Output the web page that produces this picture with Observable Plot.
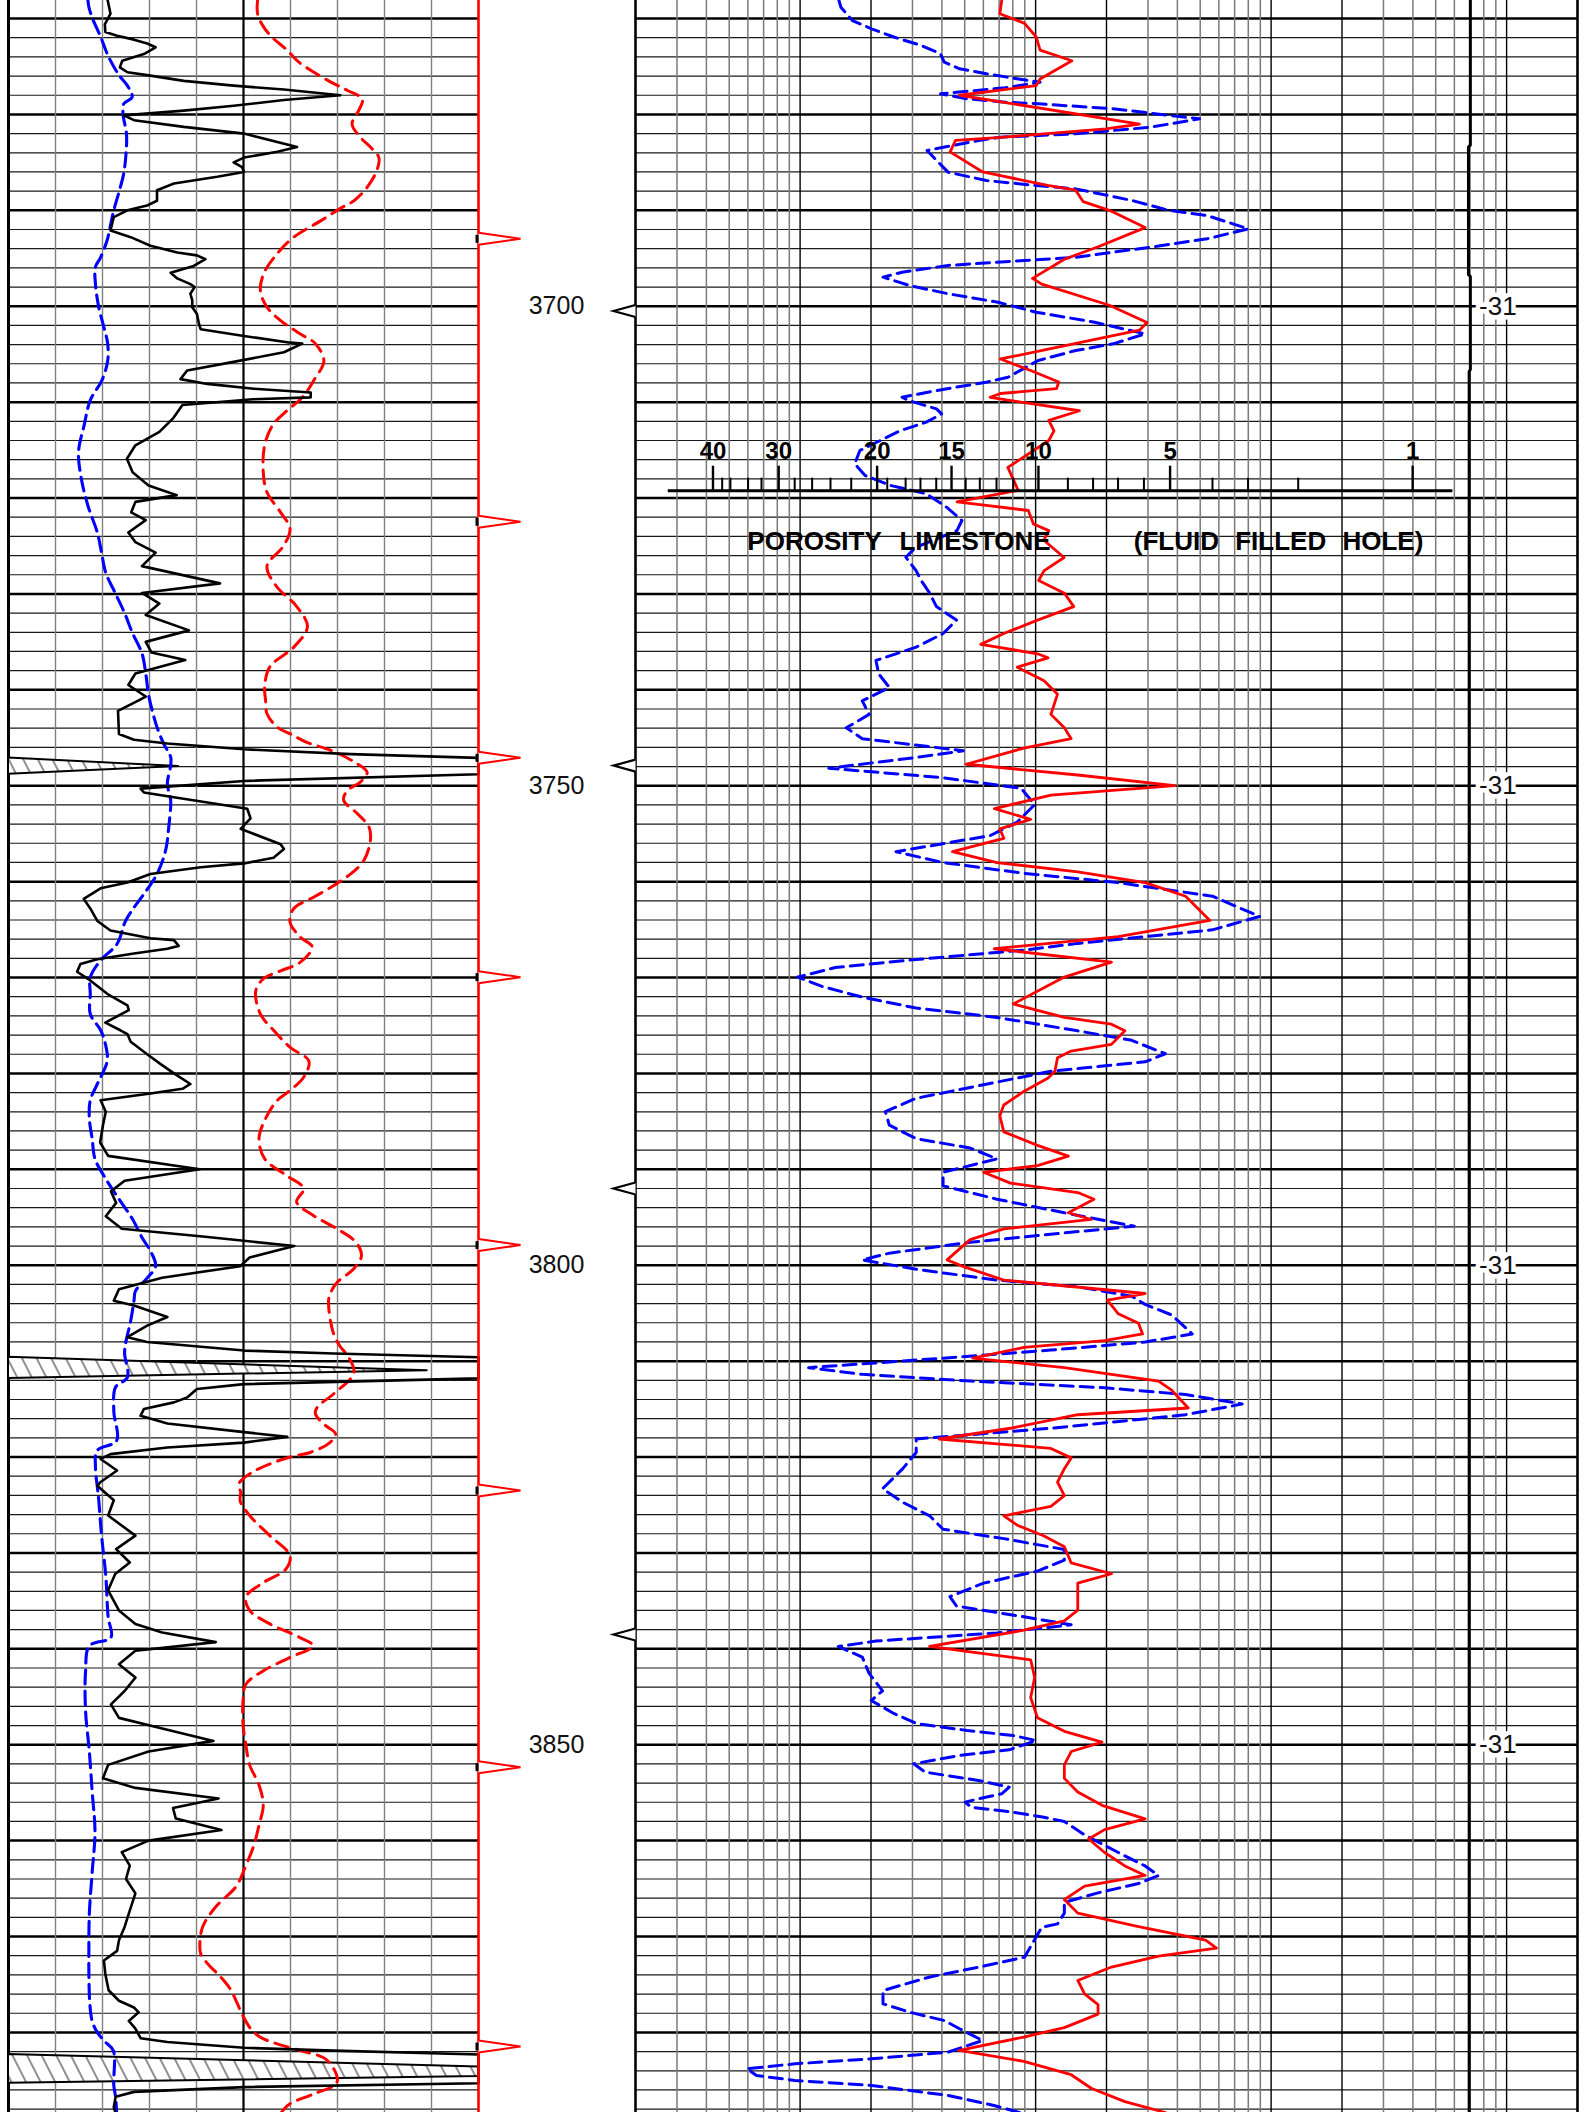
<!DOCTYPE html>
<html><head><meta charset="utf-8">
<script src="https://cdn.jsdelivr.net/npm/d3@7"></script>
<script src="https://cdn.jsdelivr.net/npm/@observablehq/plot@0.6"></script>
<style>
html,body{margin:0;padding:0;background:#fff;}
#chart{position:relative;width:1588px;height:2112px;overflow:hidden;background:#fff;}
#chart svg{position:absolute;top:0;overflow:visible;background:transparent;}
</style></head><body><div id="chart"></div>
<script>
// ---------------- DATA ----------------
// depth window (ft)
const depthTop = 3668.12, depthBottom = 3888.35;
// depth labels and grid notes
const depthLabels = [3700, 3750, 3800, 3850];
const gridNotes = ["-31", "-31", "-31", "-31"];
// marker depths
const tensionMarks = [3700.5, 3747.9, 3792.0, 3838.5];      // black markers (depth track)
const timeMarks = [3692.97, 3722.48, 3747.09, 3769.96, 3797.90, 3823.49, 3852.34, 3881.47]; // red markers

// porosity overlay scale (values and their position on the track, in cycle units)
const porMajor = [40, 30, 20, 15, 10, 5, 1];
const porMajorPos = [3.29, 6.08, 10.26, 13.42, 17.11, 22.70, 33.00];
const porMinor = [38, 36, 34, 32, 28, 26, 24, 22, 19, 18, 17, 16, 14, 13, 12, 11, 9, 8, 7, 6, 4, 3, 2];
const porMinorPos = [3.68, 4.03, 4.78, 5.35, 6.76, 7.50, 8.28, 9.16, 10.69, 11.47, 12.10, 12.77, 14.02, 14.62, 15.33, 16.04, 18.36, 19.43, 20.49, 21.59, 24.50, 26.01, 28.14];
const porTitle = ["POROSITY LIMESTONE", "(FLUID FILLED HOLE)"];

// left track curves: [depth, value 0-100]
const leftBlack = [[3668.1,21.1],[3669.5,21.7],[3670.6,20.5],[3671.4,20.6],[3671.8,23.1],[3672.2,26.7],[3672.6,29.5],[3673.0,31.3],[3673.7,28.8],[3674.4,24.2],[3675.1,23.7],[3675.6,25.3],[3675.9,29.5],[3676.5,37.3],[3677.0,47.9],[3677.4,58.6],[3678.0,70.6],[3678.5,58.6],[3679.1,47.9],[3679.6,37.3],[3680.1,24.5],[3680.6,26.7],[3681.3,37.3],[3682.0,50.1],[3683.4,61.4],[3683.9,57.2],[3684.5,50.1],[3685.0,47.9],[3685.5,49.7],[3686.0,50.1],[3686.5,44.4],[3687.2,35.2],[3687.9,31.6],[3689.0,31.6],[3689.5,29.5],[3690.0,25.3],[3690.7,22.4],[3692.1,21.7],[3692.8,26.0],[3693.7,30.2],[3694.4,35.9],[3694.7,40.1],[3695.1,41.9],[3695.8,39.4],[3696.5,34.5],[3697.1,35.9],[3697.7,38.7],[3698.0,39.6],[3698.7,38.7],[3699.4,39.1],[3700.1,39.1],[3700.8,40.1],[3701.8,40.5],[3702.4,40.9],[3703.1,50.1],[3703.8,60.0],[3703.9,62.5],[3704.8,58.6],[3705.8,47.9],[3706.7,38.0],[3707.6,36.6],[3708.1,42.3],[3708.6,52.2],[3709.0,64.3],[3709.5,64.3],[3709.7,52.0],[3710.3,37.0],[3711.7,35.0],[3713.1,32.1],[3714.5,27.0],[3715.9,25.2],[3717.3,26.4],[3718.7,29.8],[3719.7,35.8],[3720.4,27.0],[3721.5,26.1],[3722.3,29.2],[3723.6,25.5],[3724.6,27.0],[3725.7,31.3],[3727.1,28.4],[3728.9,45.0],[3729.9,28.4],[3731.0,32.1],[3732.2,29.2],[3733.8,38.4],[3735.0,29.2],[3736.1,30.4],[3736.9,37.6],[3738.3,27.0],[3739.5,25.5],[3740.7,29.2],[3741.1,27.7],[3742.2,23.3],[3744.6,23.5],[3745.2,26.7],[3745.6,33.8],[3746.2,50.1],[3746.7,72.8],[3747.1,100],[3748.0,136.2],[3748.8,100],[3749.5,50.1],[3750.3,28.1],[3750.7,28.8],[3751.2,35.2],[3751.9,44.4],[3752.4,50.8],[3753.4,51.5],[3754.5,49.4],[3756.1,57.9],[3756.6,58.6],[3757.5,56.4],[3758.1,50.1],[3758.5,40.9],[3759.2,30.2],[3760.1,25.3],[3760.7,19.6],[3761.8,16.0],[3762.8,17.4],[3764.1,18.9],[3765.1,21.7],[3765.9,30.2],[3766.1,35.2],[3766.7,36.2],[3767.0,33.8],[3767.5,26.7],[3768.1,18.9],[3768.6,15.3],[3769.4,14.6],[3770.3,17.4],[3771.7,21.0],[3772.9,25.3],[3773.4,25.6],[3774.7,20.6],[3775.5,23.8],[3775.9,25.3],[3776.7,26.0],[3778.0,29.5],[3779.0,32.3],[3780.0,35.2],[3781.1,38.7],[3781.6,37.0],[3782.1,30.2],[3782.8,19.6],[3784.0,20.7],[3785.4,20.1],[3787.2,19.5],[3788.6,21.2],[3790.0,40.7],[3791.2,24.7],[3792.3,21.8],[3793.5,22.9],[3794.9,20.7],[3796.2,24.1],[3797.0,41.3],[3798.0,60.8],[3799.2,51.3],[3800.1,49.3],[3801.3,32.7],[3802.5,23.5],[3803.7,22.4],[3804.2,26.7],[3805.4,33.8],[3806.3,29.5],[3807.5,25.3],[3808.0,29.5],[3808.9,50.1],[3809.2,69.2],[3809.6,100],[3811.0,189.1],[3811.8,100],[3812.4,50.1],[3812.9,40.1],[3813.8,38.0],[3814.3,35.2],[3815.0,28.8],[3815.7,28.1],[3816.5,33.8],[3817.4,50.1],[3817.9,59.3],[3818.5,50.1],[3819.0,33.8],[3819.7,21.7],[3820.2,19.6],[3821.4,23.1],[3822.6,19.6],[3823.0,18.9],[3824.5,22.4],[3826.1,21.2],[3828.2,27.0],[3829.6,22.9],[3831.0,25.8],[3832.2,22.7],[3833.9,21.2],[3836.0,23.5],[3837.4,27.0],[3838.3,32.7],[3839.3,44.1],[3840.2,27.0],[3841.6,23.5],[3843.0,27.0],[3844.4,24.7],[3845.8,21.8],[3847.2,23.5],[3848.3,32.7],[3849.6,43.6],[3850.7,29.8],[3852.1,21.2],[3853.5,20.1],[3854.5,27.0],[3855.6,44.7],[3856.6,35.0],[3857.7,35.6],[3858.9,45.3],[3860.0,29.8],[3861.2,24.1],[3862.6,25.8],[3864.0,25.0],[3865.5,27.0],[3867.3,25.8],[3869.0,24.7],[3870.4,23.5],[3871.5,23.1],[3872.5,20.3],[3873.9,20.6],[3875.6,21.3],[3876.7,23.5],[3877.4,26.7],[3877.9,27.7],[3878.8,25.6],[3879.6,27.0],[3880.6,28.1],[3881.0,33.8],[3881.6,50.1],[3881.9,69.2],[3882.3,100],[3883.6,200],[3884.1,215],[3884.6,200],[3885.3,100],[3885.7,50.1],[3886.2,26.7],[3886.7,22.8],[3887.8,22.4],[3888.4,22.8]];

const leftBlue = [[3668.1,16.9],[3668.8,17.1],[3669.9,17.8],[3671.9,19.6],[3674.0,21.3],[3675.9,23.5],[3677.0,25.3],[3678.2,26.3],[3678.9,24.5],[3680.1,24.4],[3682.0,25.1],[3684.1,25.0],[3686.2,24.5],[3688.1,23.5],[3690.0,22.4],[3691.8,21.6],[3693.1,21.0],[3694.9,19.6],[3695.9,18.5],[3697.7,18.5],[3700.1,19.2],[3702.2,20.3],[3703.9,21.1],[3705.7,21.1],[3707.7,19.9],[3709.8,17.4],[3712.4,16.1],[3715.2,14.9],[3718.0,15.5],[3720.8,16.9],[3723.6,18.9],[3725.7,19.8],[3727.8,20.7],[3729.9,22.7],[3732.0,24.7],[3734.1,26.4],[3736.2,28.4],[3738.3,29.2],[3740.5,29.8],[3742.2,30.6],[3743.9,31.6],[3745.6,33.0],[3747.0,34.5],[3747.9,34.5],[3749.8,33.8],[3751.5,34.5],[3754.3,34.1],[3756.8,33.4],[3759.2,31.6],[3761.3,28.8],[3762.7,26.7],[3764.1,24.9],[3766.5,23.1],[3768.2,19.6],[3770.0,17.4],[3771.7,17.4],[3773.8,17.4],[3775.5,19.6],[3776.9,20.6],[3778.7,21.0],[3781.1,18.9],[3782.8,17.4],[3784.7,17.2],[3786.8,17.8],[3788.9,18.4],[3791.0,20.7],[3793.1,23.5],[3795.2,26.4],[3797.1,28.4],[3798.7,30.4],[3800.1,31.3],[3801.5,29.2],[3802.7,27.0],[3803.7,26.7],[3805.8,26.0],[3808.2,24.9],[3809.2,24.7],[3811.7,25.3],[3812.7,22.8],[3815.2,22.4],[3818.3,23.0],[3819.3,18.9],[3821.1,18.5],[3823.1,18.9],[3824.5,19.2],[3828.2,19.8],[3832.4,20.7],[3836.7,21.2],[3838.8,21.8],[3839.7,17.2],[3842.3,16.4],[3846.5,16.4],[3850.7,17.2],[3854.9,17.8],[3859.1,18.4],[3863.3,17.8],[3867.6,17.2],[3871.5,17.1],[3873.5,17.1],[3877.0,17.3],[3878.8,17.8],[3880.0,18.9],[3881.0,20.6],[3881.9,22.3],[3885.5,22.4],[3886.8,22.8],[3888.4,23.0]];

const leftRed = [[3668.1,53.0],[3669.5,53.0],[3670.9,54.3],[3672.1,56.4],[3673.3,59.3],[3674.4,61.4],[3675.4,64.3],[3676.6,68.5],[3677.5,72.1],[3678.4,75.3],[3679.6,74.5],[3681.0,73.1],[3682.4,74.9],[3683.4,77.0],[3684.5,78.8],[3685.8,78.4],[3687.6,76.3],[3689.0,73.5],[3689.8,70.6],[3691.1,66.4],[3692.8,60.7],[3694.5,57.2],[3696.6,54.3],[3698.4,53.6],[3700.1,55.0],[3701.5,57.9],[3702.9,62.1],[3703.9,65.3],[3705.7,67.1],[3707.7,65.0],[3709.1,63.2],[3709.8,61.9],[3711.0,59.0],[3712.4,56.2],[3714.5,54.5],[3717.3,54.2],[3719.4,55.0],[3721.5,57.9],[3723.2,59.9],[3725.0,58.5],[3727.1,55.0],[3729.2,57.0],[3731.3,61.3],[3733.4,63.6],[3735.5,60.8],[3737.6,55.6],[3739.7,54.5],[3741.1,54.7],[3742.5,55.0],[3743.9,57.2],[3744.6,60.0],[3745.5,63.6],[3746.3,68.5],[3747.5,73.5],[3748.6,76.3],[3749.6,74.9],[3750.5,72.1],[3751.5,71.3],[3752.9,74.2],[3754.3,76.7],[3755.7,77.0],[3757.8,75.6],[3759.2,72.8],[3760.4,69.2],[3761.6,65.0],[3762.8,60.7],[3764.2,59.9],[3765.8,62.1],[3766.8,64.6],[3768.4,62.1],[3769.3,57.9],[3770.1,54.3],[3771.4,52.6],[3773.8,53.6],[3775.5,56.4],[3777.3,60.0],[3778.7,63.9],[3780.4,62.8],[3782.0,59.3],[3782.8,57.2],[3784.7,54.7],[3786.8,53.3],[3788.9,54.5],[3790.6,59.0],[3792.0,62.8],[3793.4,61.3],[3794.8,64.8],[3796.2,69.9],[3797.6,73.9],[3799.0,75.1],[3800.4,73.4],[3801.8,69.9],[3802.9,68.5],[3803.7,68.1],[3805.8,68.5],[3807.2,69.2],[3808.5,70.6],[3809.4,72.1],[3811.2,73.5],[3813.4,69.2],[3814.8,65.7],[3815.5,65.3],[3816.7,67.4],[3817.6,69.6],[3818.6,68.1],[3819.5,64.3],[3820.0,60.0],[3820.7,55.7],[3821.7,51.5],[3822.8,49.0],[3823.7,49.4],[3824.6,49.3],[3826.1,51.3],[3828.2,55.6],[3830.3,59.9],[3831.7,59.0],[3833.1,54.2],[3834.6,50.5],[3836.0,51.3],[3837.4,55.6],[3838.8,61.9],[3839.7,64.8],[3840.9,59.9],[3842.3,54.2],[3843.7,50.5],[3845.4,49.9],[3847.9,49.9],[3850.0,50.5],[3852.1,51.3],[3854.2,53.3],[3856.3,54.2],[3858.4,53.3],[3860.5,52.2],[3862.6,50.5],[3864.8,48.4],[3866.9,44.1],[3869.0,41.3],[3871.1,40.7],[3871.8,40.9],[3872.8,42.3],[3874.2,45.1],[3875.5,47.2],[3877.0,48.7],[3878.1,49.7],[3879.6,51.5],[3880.5,53.6],[3881.2,57.2],[3881.9,62.1],[3882.9,67.8],[3885.2,69.9],[3886.4,65.0],[3887.4,60.0],[3888.0,58.6],[3888.4,58.0]];

// right track curves: [depth, position in cycle units (10 per decade, 0-40)]
const rightRed = [[3668.12,15.55],[3669.5,15.47],[3670.5,16.52],[3671.9,17.01],[3673.3,17.18],[3674.4,18.53],[3676.3,17.18],[3677.0,17.01],[3678.0,13.76],[3681.0,21.40],[3681.5,19.97],[3682.4,15.50],[3682.7,13.59],[3683.9,13.36],[3686.0,14.74],[3687.4,17.50],[3687.9,18.69],[3689.1,19.01],[3690.0,20.12],[3691.8,21.64],[3693.8,19.65],[3695.1,18.21],[3697.1,16.86],[3697.7,17.25],[3699.9,20.12],[3701.7,21.72],[3702.5,21.40],[3704.3,17.89],[3705.5,15.50],[3706.7,16.78],[3707.9,17.97],[3708.6,17.88],[3709.1,15.50],[3709.5,15.06],[3709.8,15.81],[3710.9,18.85],[3711.9,17.55],[3713.0,17.77],[3714.0,17.55],[3716.1,16.25],[3716.8,15.81],[3719.2,16.25],[3720.4,13.65],[3721.3,16.68],[3722.7,16.90],[3723.4,17.55],[3724.4,17.34],[3726.2,18.20],[3727.6,17.34],[3728.6,17.12],[3729.92,18.21],[3731.32,18.61],[3732.73,17.07],[3734.13,15.64],[3735.26,14.66],[3736.24,17.07],[3736.66,17.52],[3737.64,16.21],[3739.05,17.35],[3740.45,17.92],[3742.56,17.64],[3743.96,18.21],[3745.09,18.50],[3746.07,16.49],[3747.76,14.04],[3748.88,18.78],[3750.00,22.90],[3750.99,17.64],[3752.39,15.24],[3753.51,16.78],[3754.50,15.47],[3755.48,15.64],[3756.88,13.46],[3758.01,15.35],[3758.99,18.78],[3760.11,21.64],[3761.52,23.36],[3764.05,24.39],[3765.73,20.50],[3767.00,15.24],[3768.40,20.21],[3769.95,18.21],[3772.76,16.04],[3774.16,18.21],[3774.86,20.21],[3775.56,20.78],[3776.97,20.21],[3777.67,18.50],[3778.37,17.92],[3779.78,17.81],[3780.48,17.52],[3781.88,16.49],[3783.29,15.64],[3784.41,15.47],[3786.10,15.64],[3787.50,17.07],[3788.63,18.38],[3789.61,17.07],[3790.31,14.78],[3791.44,15.92],[3792.42,18.78],[3793.12,19.47],[3794.53,18.38],[3795.23,19.35],[3796.21,15.64],[3797.33,14.21],[3799.44,13.23],[3800.14,13.92],[3801.55,15.64],[3802.95,21.64],[3803.65,20.04],[3805.06,20.50],[3806.04,21.36],[3807.17,21.53],[3807.87,19.92],[3808.57,16.49],[3809.69,14.32],[3810.68,18.21],[3812.08,22.21],[3813.06,22.78],[3814.89,23.47],[3815.59,18.78],[3817.00,15.92],[3818.12,12.89],[3819.10,17.64],[3820.09,18.50],[3821.21,18.21],[3822.62,17.92],[3824.02,18.21],[3825.14,17.64],[3826.13,15.64],[3827.11,16.21],[3828.23,17.35],[3829.36,18.21],[3831.04,18.50],[3832.17,20.21],[3833.15,18.78],[3834.55,18.78],[3835.96,18.78],[3837.08,18.21],[3838.06,16.49],[3839.75,12.49],[3840.31,14.21],[3841.15,16.78],[3842.98,16.95],[3845.09,16.78],[3847.19,17.07],[3848.60,18.21],[3849.72,19.81],[3850.71,18.50],[3852.11,18.21],[3853.51,18.21],[3854.92,18.78],[3856.32,19.81],[3857.73,21.64],[3858.85,19.92],[3859.83,19.24],[3861.24,19.92],[3862.64,20.78],[3863.63,21.64],[3864.75,19.07],[3866.15,18.21],[3867.56,18.78],[3868.96,21.36],[3870.37,24.21],[3871.21,24.67],[3872.05,22.21],[3873.18,20.21],[3874.58,18.78],[3875.99,19.07],[3877.11,19.64],[3878.09,19.64],[3879.50,18.21],[3880.48,16.49],[3881.88,13.75],[3883.01,16.49],[3884.41,18.50],[3885.82,19.35],[3887.22,20.78],[3888.35,22.50]];

const rightBlue = [[3668.12,8.64],[3668.82,8.72],[3670.21,9.21],[3671.07,10.02],[3671.95,11.00],[3672.81,12.13],[3673.68,12.95],[3674.55,13.11],[3675.24,13.76],[3675.76,14.90],[3676.28,16.20],[3676.64,17.18],[3677.22,15.71],[3677.85,12.95],[3678.37,14.08],[3678.72,15.71],[3678.89,17.10],[3679.41,20.28],[3680.46,23.95],[3681.33,21.88],[3682.02,18.69],[3682.37,15.50],[3682.72,14.57],[3683.76,12.38],[3686.02,13.27],[3686.89,14.90],[3687.41,17.01],[3687.76,18.69],[3688.97,21.08],[3690.02,22.67],[3690.54,24.27],[3691.93,26.02],[3692.97,24.27],[3693.84,21.88],[3694.89,18.69],[3695.23,16.52],[3695.75,13.27],[3696.45,11.32],[3696.97,10.51],[3697.84,11.64],[3698.70,13.27],[3699.58,15.39],[3700.62,17.01],[3701.67,19.49],[3702.88,21.64],[3703.92,20.28],[3704.62,18.69],[3705.66,17.10],[3707.40,15.82],[3707.92,14.90],[3708.79,12.78],[3709.49,11.32],[3709.83,11.59],[3710.70,12.78],[3711.22,13.00],[3712.09,12.35],[3712.96,11.26],[3715.04,9.53],[3716.43,9.31],[3717.65,9.75],[3718.69,10.83],[3719.56,12.35],[3720.96,13.21],[3722.34,13.86],[3723.39,13.65],[3725.13,11.91],[3726.17,11.48],[3727.56,11.91],[3728.60,12.13],[3729.92,12.49],[3731.32,12.78],[3732.73,13.63],[3734.13,13.06],[3735.54,11.92],[3736.94,10.21],[3738.35,10.33],[3739.75,10.78],[3741.15,9.63],[3742.56,9.92],[3743.96,8.95],[3745.09,9.63],[3746.35,13.92],[3747.05,11.92],[3748.18,8.21],[3749.16,13.06],[3750.28,16.38],[3751.97,16.95],[3753.79,16.21],[3755.20,15.06],[3756.88,11.06],[3758.01,13.06],[3759.13,16.49],[3760.11,20.50],[3761.52,24.50],[3763.63,26.50],[3765.03,24.50],[3766.44,18.78],[3767.14,16.49],[3768.12,11.92],[3768.96,8.49],[3769.95,6.89],[3770.93,7.92],[3772.05,9.63],[3773.18,11.92],[3774.16,15.35],[3775.56,18.78],[3776.55,21.07],[3777.95,22.50],[3778.79,21.64],[3779.78,17.64],[3781.18,14.78],[3782.59,11.92],[3783.99,10.61],[3785.40,10.78],[3786.80,11.92],[3787.78,14.21],[3788.91,15.35],[3790.31,13.06],[3791.72,13.06],[3793.12,15.35],[3794.53,18.21],[3795.93,21.18],[3796.63,18.21],[3797.61,14.21],[3798.74,10.78],[3799.44,9.63],[3800.42,11.92],[3801.55,15.35],[3802.25,18.78],[3803.23,21.07],[3804.08,21.64],[3805.20,22.78],[3807.17,23.64],[3808.01,21.64],[3808.85,17.64],[3809.69,13.06],[3810.68,7.35],[3811.38,9.63],[3812.08,14.21],[3812.78,19.92],[3813.48,23.36],[3814.47,25.76],[3815.59,23.36],[3817.00,17.64],[3818.12,11.92],[3819.52,11.92],[3821.21,11.35],[3823.32,10.49],[3824.72,11.35],[3826.13,12.49],[3827.53,13.06],[3828.51,15.64],[3829.64,18.21],[3830.76,18.21],[3831.89,17.07],[3833.15,14.78],[3834.55,13.35],[3835.54,13.63],[3836.66,16.49],[3837.50,18.50],[3838.34,15.35],[3839.19,10.21],[3839.75,8.61],[3840.87,9.63],[3842.56,9.92],[3844.38,10.49],[3845.39,10.01],[3846.77,10.99],[3847.82,11.97],[3848.51,14.08],[3849.04,16.04],[3849.56,17.01],[3850.53,15.87],[3851.12,13.76],[3851.99,11.81],[3852.86,12.30],[3853.73,14.57],[3854.43,15.87],[3855.12,15.55],[3855.64,14.57],[3855.99,14.00],[3856.51,14.25],[3857.04,16.04],[3857.56,17.34],[3858.01,18.21],[3859.41,19.07],[3861.24,20.50],[3862.64,21.64],[3863.63,22.21],[3864.47,21.36],[3865.45,19.64],[3866.44,18.21],[3867.56,18.21],[3868.68,17.92],[3869.03,17.25],[3872.15,16.52],[3873.20,14.57],[3874.24,12.46],[3875.63,10.51],[3877.01,10.51],[3877.89,11.64],[3878.76,13.11],[3879.62,13.76],[3880.84,14.74],[3882.06,13.27],[3882.75,10.02],[3883.27,6.77],[3883.79,4.73],[3884.49,5.14],[3885.01,6.77],[3885.53,10.02],[3886.57,13.27],[3887.62,15.22],[3888.35,16.3]];

const rightBlack = [[3668.12,35.45],[3683.2,35.45],[3683.4,35.37],[3696.7,35.37],[3696.9,35.45],[3706.6,35.45],[3706.8,35.40],[3888.35,35.40]];

// ---------------- LAYOUT / STYLE ----------------
const H = 2112;
const FONT = "'Liberation Sans', Arial, Helvetica, sans-serif";
const yOpt = {domain: [depthTop, depthBottom], range: [0, H], axis: null};
const gridAll = d3.range(3670, 3889, 2);
const gridThin = gridAll.filter(d => d % 10 !== 0);
const gridThick = gridAll.filter(d => d % 10 === 0);
const D = d => d[0], V = d => d[1];

const arrowRight = {draw(ctx) { ctx.moveTo(0, -6); ctx.lineTo(42, 0); ctx.lineTo(0, 6); }};
const arrowLeft = {draw(ctx) { ctx.moveTo(0, -6); ctx.lineTo(-22, 0); ctx.lineTo(0, 6); }};
const blackBit = {draw(ctx) { ctx.rect(-3, -4, 3, 8); }};

// ---------- left track ----------
const left = Plot.plot({
  width: 590, height: H, margin: 0,
  x: {domain: [0, 100], range: [8, 478], axis: null},
  y: yOpt,
  style: {background: "transparent", overflow: "visible"},
  marks: [
    Plot.ruleY(gridThin, {x1: 0, x2: 100, stroke: "#1a1a1a", strokeWidth: 1.2}),
    Plot.ruleY(gridThick, {x1: 0, x2: 100, stroke: "#000", strokeWidth: 2.5}),
    Plot.ruleX([10, 20, 30, 40, 60, 70, 80, 90], {stroke: "#808080", strokeWidth: 1.4}),
    Plot.ruleX([50], {stroke: "#000", strokeWidth: 2.2}),
    Plot.ruleX([0], {stroke: "#000", strokeWidth: 3}),
    Plot.areaX(leftBlack, {y: D, x1: 0, x2: d => d[1] >= 100 ? Math.min(d[1] - 100, 100) : NaN,
      fill: "url(#hatch)", stroke: "#000", strokeWidth: 2}),
    Plot.line(leftBlue, {x: V, y: D, stroke: "#0000ff", strokeWidth: 3.1, strokeDasharray: "14,7", curve: "catmull-rom"}),
    Plot.line(leftRed, {x: V, y: D, stroke: "#ff0000", strokeWidth: 3, strokeDasharray: "14,8", curve: "catmull-rom"}),
    Plot.line(leftBlack, {x: d => Math.min(d[1], 100), y: D, stroke: "#000", strokeWidth: 2.6, strokeLinejoin: "round"}),
    Plot.ruleX([100], {stroke: "#ff0000", strokeWidth: 2.6}),
    Plot.dot(timeMarks, {x: 100, y: d => d, symbol: arrowRight, fill: "#fff", stroke: "#ff0000", strokeWidth: 2}),
    Plot.dot(timeMarks, {x: 100, y: d => d, symbol: blackBit, fill: "#000", stroke: "none"}),
    Plot.text(depthLabels, {x: 100, y: d => d, text: d => String(d), dx: 78, fontSize: 25,
      fontFamily: FONT, fill: "#111", textAnchor: "middle", lineAnchor: "middle"})
  ]
});
left.style.left = "0px";

// hatch pattern for the wrapped (backup) trace
const defs = d3.select(left).insert("defs", ":first-child");
const pat = defs.append("pattern").attr("id", "hatch").attr("patternUnits", "userSpaceOnUse")
  .attr("width", 13).attr("height", 13).attr("patternTransform", "rotate(-27)");
pat.append("rect").attr("width", 13).attr("height", 13).attr("fill", "#fff");
pat.append("line").attr("x1", 1).attr("y1", 0).attr("x2", 1).attr("y2", 13).attr("stroke", "#333").attr("stroke-width", 1.1);

// ---------- right track ----------
const cycK = [1, 1.5, 2, 2.5, 3, 3.5, 4, 4.5, 5];
const cycLines = [];
for (let n = 0; n < 4; n++) for (const k of cycK) cycLines.push({u: 10 * (n + Math.log10(k)), major: k === 1 || k === 5});
const axisDepth = 3719.25, majorTop = 3716.68, minorTop = 3717.93, labelBase = 3715.91, titleBase = 3725.47;

const right = Plot.plot({
  width: 998, height: H, margin: 0,
  x: {domain: [0, 40], range: [45, 987], axis: null},
  y: yOpt,
  style: {background: "transparent", overflow: "visible"},
  marks: [
    Plot.ruleY(gridThin, {x1: 0, x2: 40, stroke: "#1a1a1a", strokeWidth: 1.2}),
    Plot.ruleY(gridThick, {x1: 0, x2: 40, stroke: "#000", strokeWidth: 2.5}),
    Plot.ruleX(cycLines.filter(d => !d.major && d.u > 0), {x: "u", stroke: "#7a7a7a", strokeWidth: 1.5}),
    Plot.ruleX(cycLines.filter(d => d.major && d.u > 0), {x: "u", stroke: "#000", strokeWidth: 1.4}),
    Plot.ruleX([0, 40], {stroke: "#000", strokeWidth: 2.6}),
    Plot.line(rightBlack, {x: V, y: D, stroke: "#000", strokeWidth: 3}),
    Plot.line(rightBlue, {x: V, y: D, stroke: "#0000ff", strokeWidth: 3, strokeDasharray: "13,7"}),
    Plot.line(rightRed, {x: V, y: D, stroke: "#ff0000", strokeWidth: 2.8, strokeLinejoin: "round"}),
    Plot.text(depthLabels, {x: 36.62, y: d => d, text: (d, i) => gridNotes[i], fontSize: 26, fontFamily: FONT,
      fill: "#111", stroke: "#fff", strokeWidth: 9, textAnchor: "middle", lineAnchor: "middle"}),
    Plot.dot(tensionMarks, {x: 0, y: d => d, symbol: arrowLeft, fill: "#fff", stroke: "#000", strokeWidth: 2.2}),
    // porosity overlay scale
    Plot.ruleY([axisDepth], {x1: 1.39, x2: 34.71, stroke: "#000", strokeWidth: 3}),
    Plot.ruleX(porMajorPos, {y1: majorTop, y2: axisDepth, stroke: "#000", strokeWidth: 2.4}),
    Plot.ruleX(porMinorPos, {y1: minorTop, y2: axisDepth, stroke: "#000", strokeWidth: 2}),
    Plot.text(porMajor, {x: (d, i) => porMajorPos[i], y: labelBase, text: d => String(d), fontSize: 24,
      fontWeight: "bold", fontFamily: FONT, fill: "#000", textAnchor: "middle", lineAnchor: "bottom"}),
    Plot.text(porTitle, {x: (d, i) => [4.75, 21.16][i], y: titleBase, text: d => d, fontSize: 26,
      fontWeight: "bold", fontFamily: FONT, fill: "#000", textAnchor: "start", lineAnchor: "bottom"})
  ]
});
right.style.left = "590px";
d3.select(right).selectAll("text")
  .filter(function() { return /POROSITY/.test(this.textContent); })
  .style("word-spacing", "11px");
d3.select(right).selectAll("text")
  .filter(function() { return /FLUID/.test(this.textContent); })
  .style("word-spacing", "9px");

const chart = document.getElementById("chart");
chart.appendChild(left);
chart.appendChild(right);
</script>
</body></html>
